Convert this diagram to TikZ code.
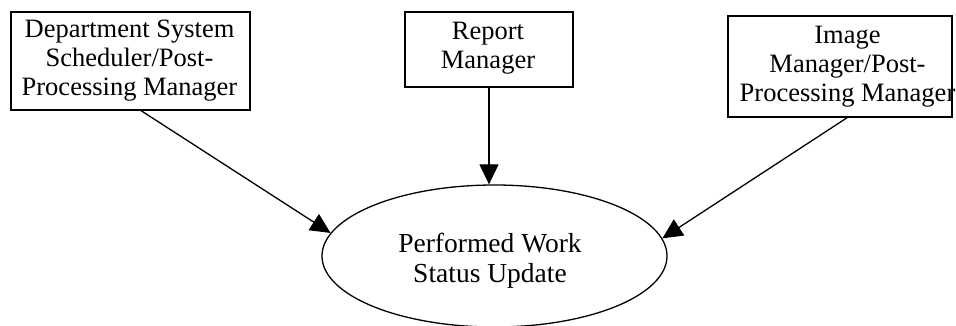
\documentclass[tikz,border=0pt]{standalone}
\usepackage{fontspec}
\setmainfont{Liberation Serif}
\usetikzlibrary{shapes.geometric,arrows.meta}
\tikzset{
  box/.style={draw, line width=1.3pt, inner sep=0pt},
  txt/.style={align=center, inner sep=0pt, font=\fontsize{26.5}{29}\selectfont},
  oval/.style={draw, ellipse, line width=1.3pt, inner sep=0pt},
  arr/.style={line width=1.3pt, -{Triangle[length=20pt,width=19pt]}}
}
\begin{document}
\begin{tikzpicture}[x=1pt,y=-1pt]
\useasboundingbox (0,0) rectangle (956,326);
\node[box, minimum width=239pt, minimum height=98pt] (b1) at (130.5,61) {};
\node[txt] (t1) at (129.5,61) {Department System\\Scheduler/Post-\\Processing Manager};
\node[box, minimum width=168pt, minimum height=75pt] (b2) at (489,49.5) {};
\node[txt] (t2) at (488,48) {Report\\Manager};
\node[box, minimum width=224pt, minimum height=101pt] (b3) at (840,66.5) {};
\node[txt] (t3) at (847.5,67) {Image\\Manager/Post-\\Processing Manager};
\node[oval, minimum width=345pt, minimum height=142pt] (e) at (494.5,256) {};
\node[txt, font=\fontsize{27.5}{30}\selectfont] (te) at (490,261) {Performed Work\\Status Update};
\draw[arr] (b1.-78) -- (e.172);
\draw[arr] (b2.south) -- (b2.south |- e.north);
\draw[arr] (b3.-82) -- (e.6.6);
\end{tikzpicture}
\end{document}
